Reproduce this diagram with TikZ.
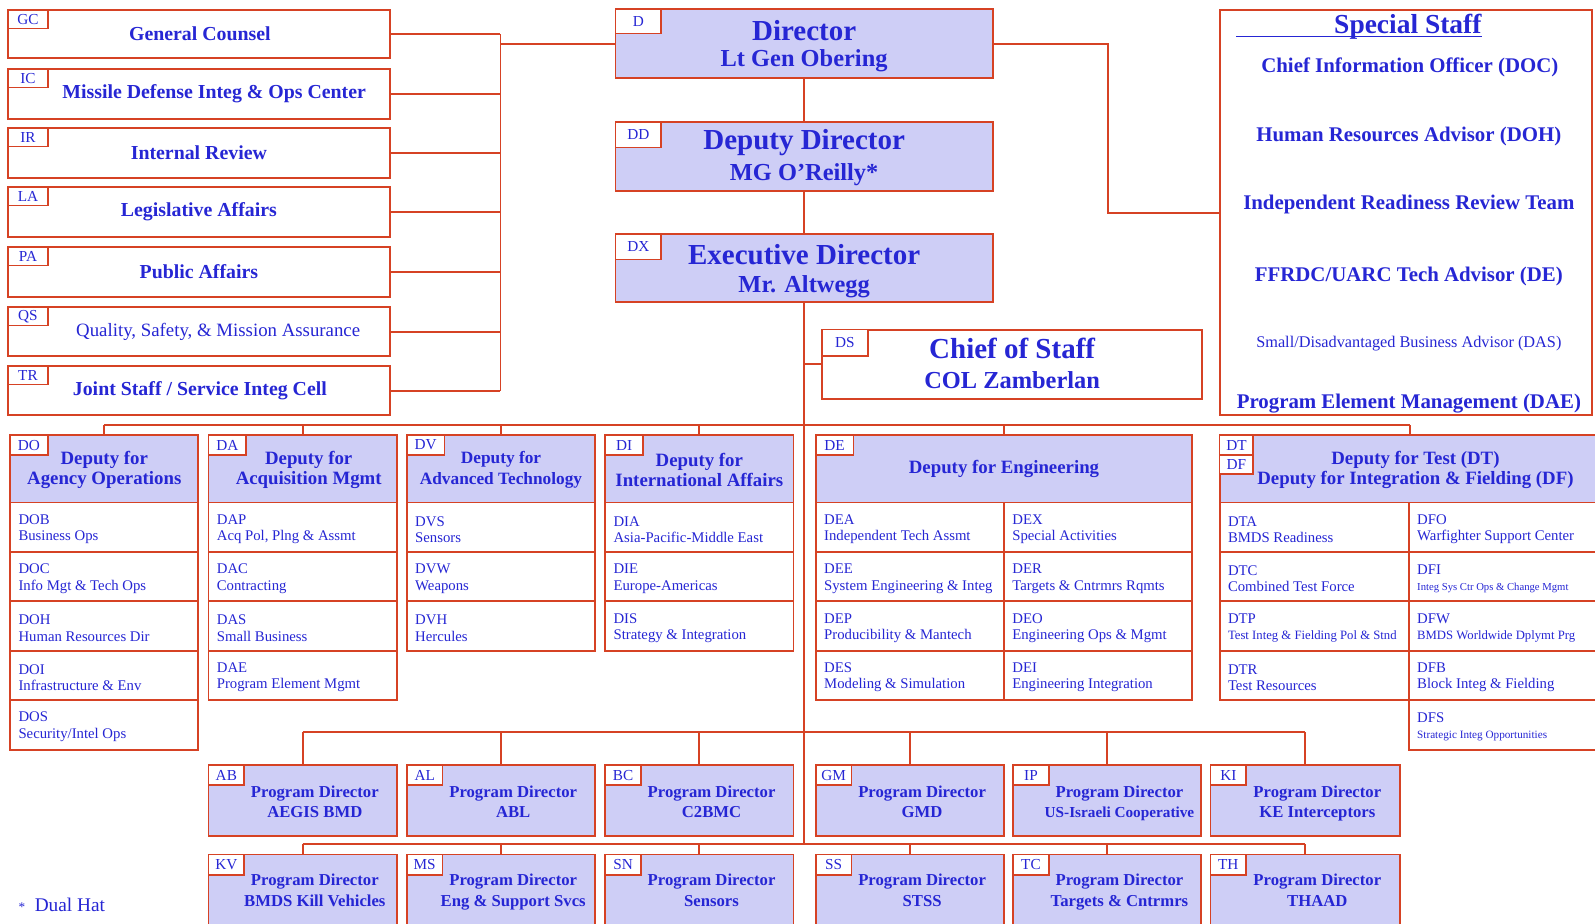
\documentclass[tikz,border=0pt]{standalone}
\usepackage{fontspec}
\setmainfont{Liberation Serif}
\usetikzlibrary{calc}
\definecolor{lnc}{RGB}{214,66,36}
\definecolor{txc}{RGB}{38,38,212}
\definecolor{flc}{RGB}{206,206,246}
\newcommand\fsz[2]{\fontsize{#1}{#2}\selectfont}
\newcommand\mkbox[6]{\node[#6, anchor=north west, minimum width={#4pt-#2pt}, minimum height={#5pt-#3pt}] (#1) at (#2,#3) {};}
\newcommand\mktab[4]{\node[tab, minimum width=#2pt, minimum height=#3pt] (#1t) at (#1.north west) {#4};}
\newcommand\mkrow[7]{\mkbox{#1}{#2}{#3}{#4}{#5}{wbx}\node[tx, align=left, anchor=west, font=\fsz{14.5}{16}] (#1x) at ([xshift=8pt,yshift=-2pt]#1.west) {#6\\#7};}
\tikzset{
  ln/.style={draw=lnc, line width=1.8pt},
  bx/.style={draw=lnc, line width=1.8pt, inner sep=0pt, outer sep=0pt},
  wbx/.style={bx, fill=white},
  lbx/.style={bx, fill=flc},
  tab/.style={draw=lnc, line width=1.6pt, fill=white, inner sep=0pt, outer sep=0pt, anchor=north west, text=txc, font=\fsz{15}{15}},
  tx/.style={text=txc, align=center, inner sep=0pt},
  leftf/.style={tx, font=\fsz{19.5}{22}\bfseries},
  deph/.style={tx, font=\fsz{18.5}{20}\bfseries},
  prog/.style={tx, font=\fsz{16.4}{20}\bfseries, execute at end node={\strut}},
  ssf/.style={tx, font=\fsz{20.5}{24}\bfseries},
}
\begin{document}
\begin{tikzpicture}[x=1pt,y=-1pt]
\fill[white] (0,0) rectangle (1568,908);
\useasboundingbox (0,0) rectangle (1568,908);

% ---------- boxes: left column
\mkbox{GC}{8}{10}{383}{57}{wbx}
\mkbox{IC}{8}{68}{383}{117}{wbx}
\mkbox{IR}{8}{126}{383}{175}{wbx}
\mkbox{LA}{8}{184}{383}{233}{wbx}
\mkbox{PA}{8}{243}{383}{292}{wbx}
\mkbox{QS}{8}{302}{383}{350}{wbx}
\mkbox{TR}{8}{360}{383}{408}{wbx}

% ---------- center column
\mkbox{D}{605}{9}{976}{77}{lbx}
\mkbox{DD}{605}{120}{976}{188}{lbx}
\mkbox{DX}{605}{230}{976}{297}{lbx}
\mkbox{DS}{808}{324}{1182}{392}{wbx}
\mkbox{SPS}{1199}{10}{1565}{408}{wbx}

% ---------- deputy headers
\mkbox{DOh}{10}{428}{195}{494}{lbx}
\mkbox{DAh}{205}{428}{390}{494}{lbx}
\mkbox{DVh}{400}{428}{585}{494}{lbx}
\mkbox{DIh}{595}{428}{780}{494}{lbx}
\mkbox{DEh}{802}{428}{1172}{494}{lbx}
\mkbox{DTh}{1199}{428}{1574}{494}{lbx}

% ---------- program directors
\mkbox{AB}{205}{752}{390}{822}{lbx}
\mkbox{AL}{400}{752}{585}{822}{lbx}
\mkbox{BC}{595}{752}{780}{822}{lbx}
\mkbox{GM}{802}{752}{987}{822}{lbx}
\mkbox{IP}{996}{752}{1181}{822}{lbx}
\mkbox{KI}{1190}{752}{1376}{822}{lbx}
\mkbox{KV}{205}{840}{390}{914}{lbx}
\mkbox{MS}{400}{840}{585}{914}{lbx}
\mkbox{SN}{595}{840}{780}{914}{lbx}
\mkbox{SS}{802}{840}{987}{914}{lbx}
\mkbox{TC}{996}{840}{1181}{914}{lbx}
\mkbox{TH}{1190}{840}{1376}{914}{lbx}

% ---------- connectors
\coordinate (lbus) at (492,0);
\coordinate (rbus) at (1089,0);
\coordinate (dbus) at (0,418);
\coordinate (pbusa) at (0,720);
\coordinate (pbusb) at (0,830);
\foreach \n in {GC,IC,IR,LA,PA,QS,TR} \draw[ln] (\n.east) -- (\n.east -| lbus);
\draw[ln] (GC.east -| lbus) -- (TR.east -| lbus);
\draw[ln] (D.west) -- (D.west -| lbus);
\draw[ln] (D.east) -| (rbus |- SPS.west) -- (SPS.west);
\draw[ln] (D.south) -- (DD.north);
\draw[ln] (DD.south) -- (DX.north);
\draw[ln] (DX.south) -- (DX.south |- pbusb);
\draw[ln] (DX.south |- DS.west) -- (DS.west);
\draw[ln] (DOh.north |- dbus) -- (DTh.north |- dbus);
\foreach \n in {DOh,DAh,DVh,DIh,DEh,DTh} \draw[ln] (\n.north |- dbus) -- (\n.north);
\draw[ln] (AB.north |- pbusa) -- (KI.north |- pbusa);
\foreach \n in {AB,AL,BC,GM,IP,KI} \draw[ln] (\n.north |- pbusa) -- (\n.north);
\draw[ln] (KV.north |- pbusb) -- (TH.north |- pbusb);
\foreach \n in {KV,MS,SN,SS,TC,TH} \draw[ln] (\n.north |- pbusb) -- (\n.north);

% ---------- tabs
\foreach \n/\t in {GC/GC,IC/IC,IR/IR,LA/LA,PA/PA,QS/QS,TR/TR} \mktab{\n}{39}{18}{\t};
\mktab{D}{45}{24}{D}
\mktab{DD}{45}{25}{DD}
\mktab{DX}{45}{25}{DX}
\mktab{DS}{45}{26}{DS}
\foreach \n/\t in {DOh/DO,DAh/DA,DVh/DV,DIh/DI,DEh/DE} \mktab{\n}{37}{19}{\t};
\node[tab, minimum width=33pt, minimum height=19pt] (DTt) at (DTh.north west) {DT};
\node[tab, minimum width=33pt, minimum height=19pt] (DFt) at (DTt.south west) {DF};
\foreach \n in {AB,AL,BC,GM,IP,KI,KV,MS,SN,SS,TC,TH} \mktab{\n}{35}{20}{\n};

% ---------- texts left
\node[leftf] at ([xshift=1pt]GC.center) {General Counsel};
\node[leftf] at ([xshift=15pt]IC.center) {Missile Defense Integ \& Ops Center};
\node[leftf] at (IR.center) {Internal Review};
\node[leftf] at (LA.center) {Legislative Affairs};
\node[leftf] at (PA.center) {Public Affairs};
\node[tx, font=\fsz{18.5}{22}] at ([xshift=19pt]QS.center) {Quality, Safety, \& Mission Assurance};
\node[leftf] at ([xshift=1pt]TR.center) {Joint Staff / Service Integ Cell};

% ---------- texts center
\node[tx, font=\fsz{28.5}{30}\bfseries] at ([yshift=13pt]D.center) {Director};
\node[tx, font=\fsz{24}{26}\bfseries] at ([yshift=-17pt]D.center) {Lt Gen Obering};
\node[tx, font=\fsz{28.5}{30}\bfseries] at ([yshift=14pt]DD.center) {Deputy Director};
\node[tx, font=\fsz{24}{26}\bfseries] at ([yshift=-18pt]DD.center) {MG O'Reilly*};
\node[tx, font=\fsz{28.5}{30}\bfseries] at ([yshift=13.5pt]DX.center) {Executive Director};
\node[tx, font=\fsz{24}{26}\bfseries] at ([yshift=-18.5pt]DX.center) {Mr. Altwegg};
\node[tx, font=\fsz{28.5}{30}\bfseries] at ([yshift=15pt]DS.center) {Chief of Staff};
\node[tx, font=\fsz{24}{26}\bfseries] at ([yshift=-16pt]DS.center) {COL Zamberlan};

% ---------- special staff
\node[tx, font=\fsz{27}{30}\bfseries, anchor=base] (sst) at (1384,33) {Special Staff};
\draw[txc, line width=1.4pt] ([yshift=-3pt]sst.base east) -- ++(-242,0);
\node[ssf] at (1386,66) {Chief Information Officer (DOC)};
\node[ssf] at (1385,134) {Human Resources Advisor (DOH)};
\node[ssf] at (1385,201) {Independent Readiness Review Team};
\node[ssf] at (1385,272) {FFRDC/UARC Tech Advisor (DE)};
\node[tx, font=\fsz{16}{18}] at (1385,338) {Small/Disadvantaged Business Advisor (DAS)};
\node[ssf] at (1385,397) {Program Element Management (DAE)};

% ---------- deputy header texts
\node[deph] at ([yshift=-1pt]DOh.center) {Deputy for\\Agency Operations};
\node[deph] at ([xshift=6pt,yshift=-1pt]DAh.center) {Deputy for\\Acquisition Mgmt};
\node[tx, font=\fsz{17}{20}\bfseries] at ([yshift=-1pt]DVh.center) {Deputy for\\Advanced Technology};
\node[deph] at ([yshift=-1pt]DIh.center) {Deputy for\\International Affairs};
\node[deph] at (DEh.center) {Deputy for Engineering};
\node[deph] at ([xshift=5pt,yshift=-1pt]DTh.center) {Deputy for Test (DT)\\Deputy for Integration \& Fielding (DF)};

% ---------- rows
\mkrow{DOB}{10}{494}{195}{543}{DOB}{Business Ops}
\mkrow{DOC}{10}{543}{195}{591}{DOC}{Info Mgt \& Tech Ops}
\mkrow{DOH}{10}{591}{195}{640}{DOH}{Human Resources Dir}
\mkrow{DOI}{10}{640}{195}{688}{DOI}{Infrastructure \& Env}
\mkrow{DOS}{10}{688}{195}{737}{DOS}{Security/Intel Ops}
\mkrow{DAP}{205}{494}{390}{543}{DAP}{Acq Pol, Plng \& Assmt}
\mkrow{DAC}{205}{543}{390}{591}{DAC}{Contracting}
\mkrow{DAS}{205}{591}{390}{640}{DAS}{Small Business}
\mkrow{DAE}{205}{640}{390}{688}{DAE}{Program Element Mgmt}
\mkrow{DVS}{400}{494}{585}{543}{DVS}{Sensors}
\mkrow{DVW}{400}{543}{585}{591}{DVW}{Weapons}
\mkrow{DVH}{400}{591}{585}{640}{DVH}{Hercules}
\mkrow{DIA}{595}{494}{780}{543}{DIA}{Asia-Pacific-Middle East}
\mkrow{DIE}{595}{543}{780}{591}{DIE}{Europe-Americas}
\mkrow{DIS}{595}{591}{780}{640}{DIS}{Strategy \& Integration}
\mkrow{DEA}{802}{494}{987}{543}{DEA}{Independent Tech Assmt}
\mkrow{DEE}{802}{543}{987}{591}{DEE}{System Engineering \& Integ}
\mkrow{DEP}{802}{591}{987}{640}{DEP}{Producibility \& Mantech}
\mkrow{DES}{802}{640}{987}{688}{DES}{Modeling \& Simulation}
\mkrow{DEX}{987}{494}{1172}{543}{DEX}{Special Activities}
\mkrow{DER}{987}{543}{1172}{591}{DER}{Targets \& Cntrmrs Rqmts}
\mkrow{DEO}{987}{591}{1172}{640}{DEO}{Engineering Ops \& Mgmt}
\mkrow{DEI}{987}{640}{1172}{688}{DEI}{Engineering Integration}
\mkrow{DTA}{1199}{494}{1385}{543}{DTA}{BMDS Readiness}
\mkrow{DTC}{1199}{543}{1385}{591}{DTC}{Combined Test Force}
\mkrow{DTP}{1199}{591}{1385}{640}{DTP}{{\fsz{12.5}{16}Test Integ \& Fielding Pol \& Stnd}}
\mkrow{DTR}{1199}{640}{1385}{688}{DTR}{Test Resources}
\mkrow{DFO}{1385}{494}{1574}{543}{DFO}{Warfighter Support Center}
\mkrow{DFI}{1385}{543}{1574}{591}{DFI}{{\fsz{10.5}{16}Integ Sys Ctr Ops \& Change Mgmt}}
\mkrow{DFW}{1385}{591}{1574}{640}{DFW}{{\fsz{12.5}{16}BMDS Worldwide Dplymt Prg}}
\mkrow{DFB}{1385}{640}{1574}{688}{DFB}{Block Integ \& Fielding}
\mkrow{DFS}{1385}{688}{1574}{737}{DFS}{{\fsz{11}{16}Strategic Integ Opportunities}}

% ---------- program texts
\node[prog] at ([xshift=12pt,yshift=-4pt]AB.center) {Program Director\\AEGIS BMD};
\node[prog] at ([xshift=12pt,yshift=-4pt]AL.center) {Program Director\\ABL};
\node[prog] at ([xshift=12pt,yshift=-4pt]BC.center) {Program Director\\C2BMC};
\node[prog] at ([xshift=12pt,yshift=-4pt]GM.center) {Program Director\\GMD};
\node[prog] at ([xshift=12pt,yshift=-4pt]IP.center) {Program Director\\{\fsz{15}{20}US-Israeli Cooperative}};
\node[prog] at ([xshift=12pt,yshift=-4pt]KI.center) {Program Director\\KE Interceptors};
\node[prog] at ([xshift=12pt,yshift=-1pt]KV.center) {Program Director\\BMDS Kill Vehicles};
\node[prog] at ([xshift=12pt,yshift=-1pt]MS.center) {Program Director\\Eng \& Support Svcs};
\node[prog] at ([xshift=12pt,yshift=-1pt]SN.center) {Program Director\\Sensors};
\node[prog] at ([xshift=12pt,yshift=-1pt]SS.center) {Program Director\\STSS};
\node[prog] at ([xshift=12pt,yshift=-1pt]TC.center) {Program Director\\Targets \& Cntrmrs};
\node[prog] at ([xshift=12pt,yshift=-1pt]TH.center) {Program Director\\THAAD};

% ---------- footnote
\node[tx, font=\fsz{19}{22}, anchor=west] (dual) at (18,890) {{\fsz{13}{13}*}\ \ Dual Hat};
\end{tikzpicture}
\end{document}
